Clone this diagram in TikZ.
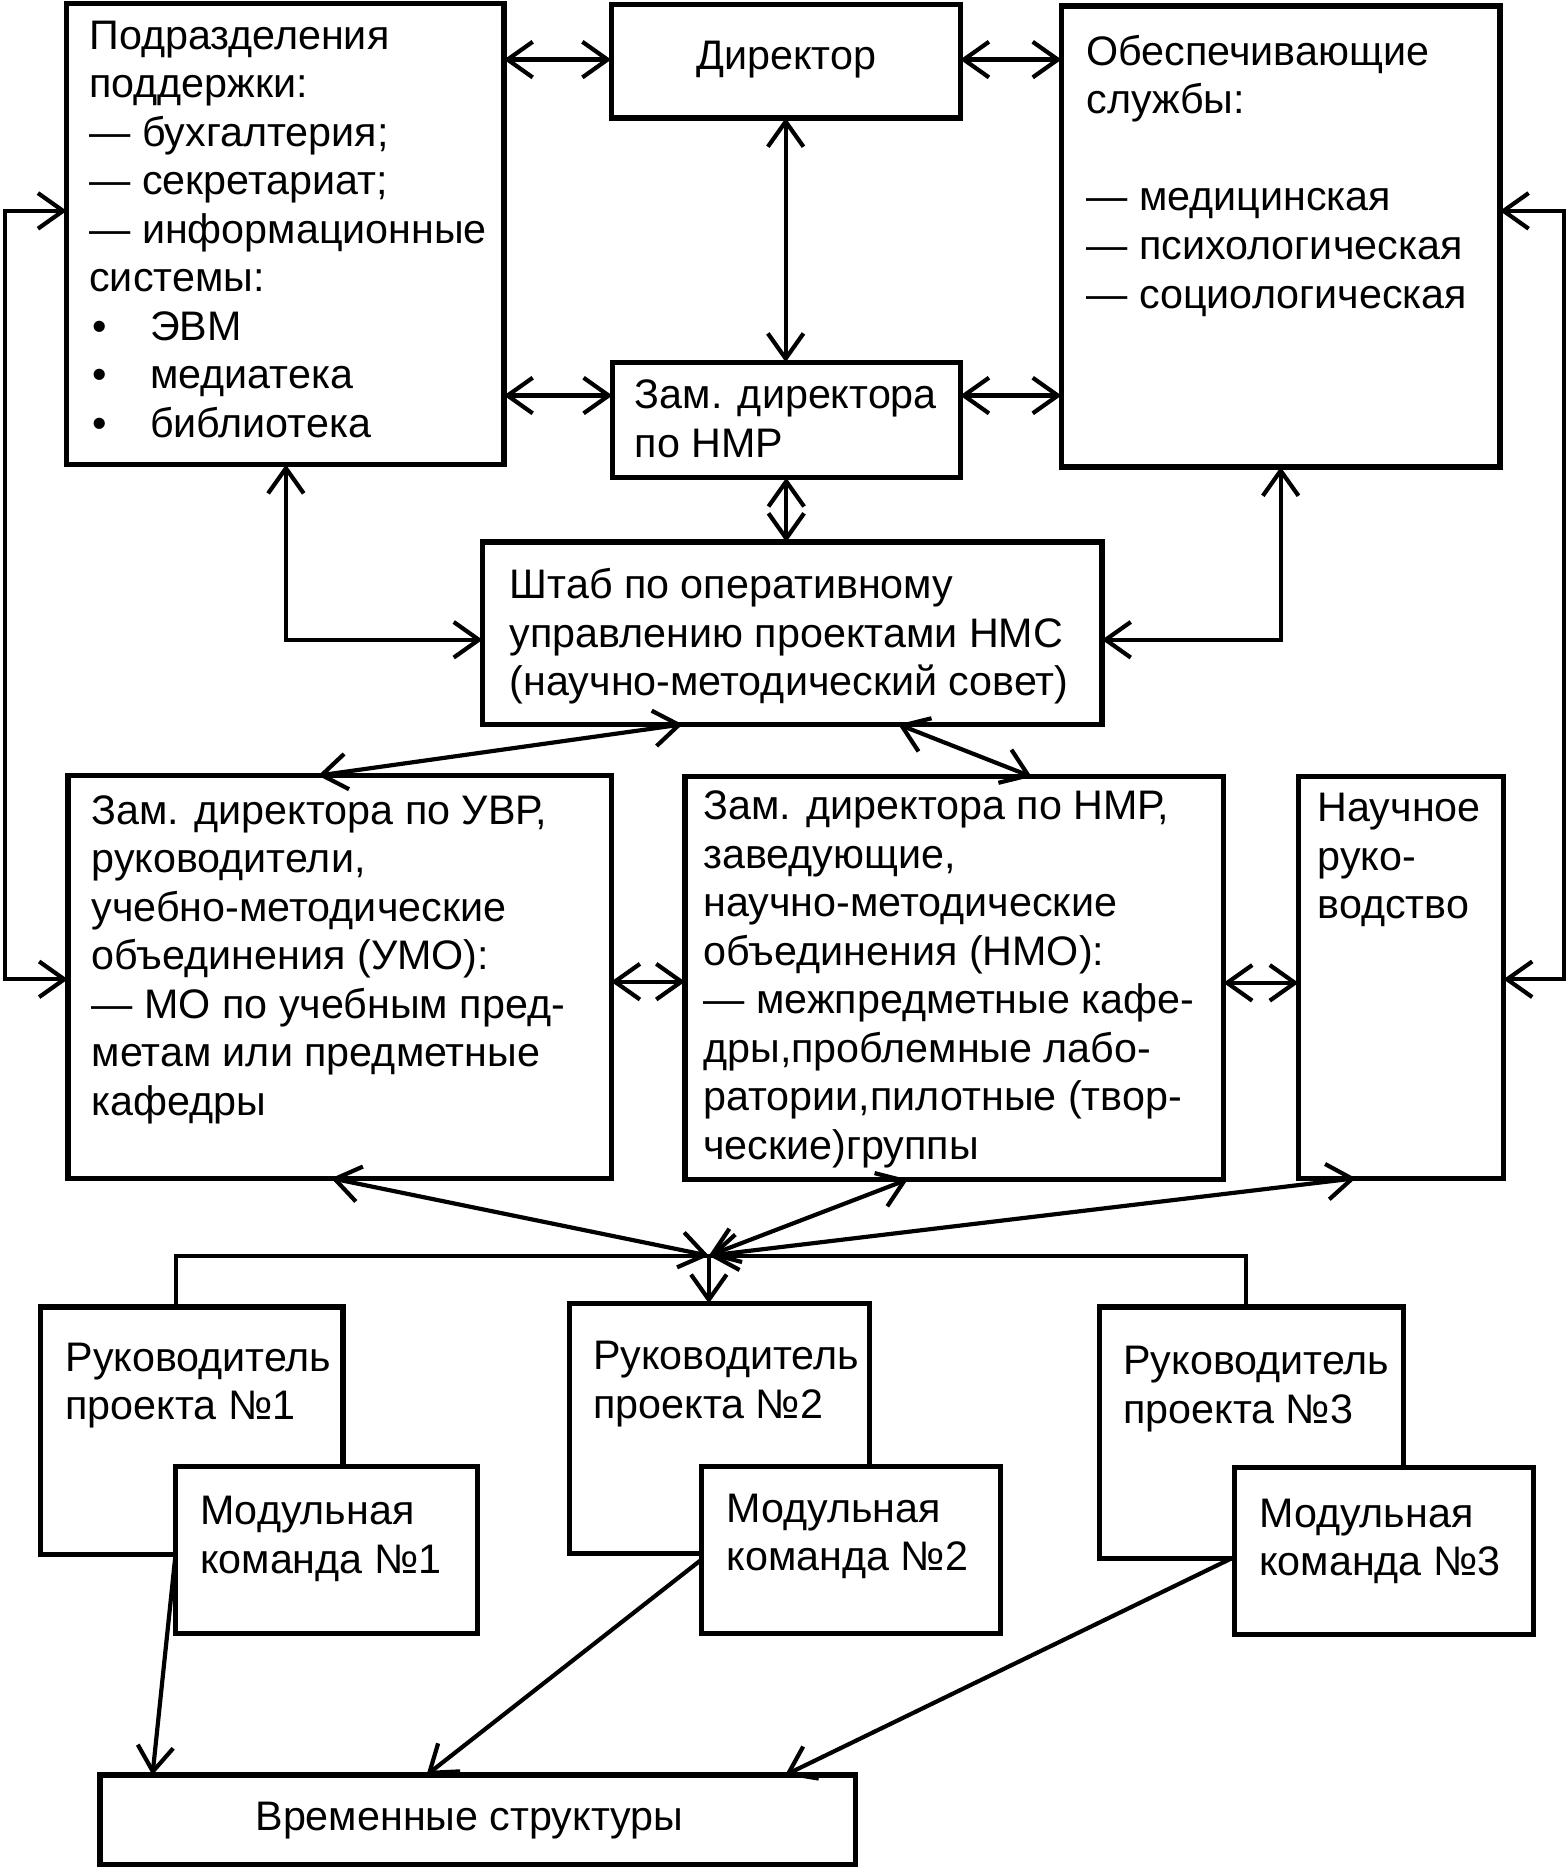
\documentclass[tikz,border=0pt]{standalone}
\usepackage{fontspec}
\setmainfont{Liberation Sans}
\usetikzlibrary{arrows.meta,fit,calc}
\begin{document}
\begin{tikzpicture}[x=0.01cm,y=-0.01cm,
 box/.style={draw, line width=1.25pt, inner sep=0pt, outer sep=0pt, fill=white},
 txt/.style={inner sep=0pt, outer sep=0pt, align=left, anchor=north west, font=\fontsize{9.85pt}{11.58pt}\selectfont},
 con/.style={line width=1pt},
 dbl/.style={con, {Straight Barb[length=6pt,width=8.5pt]}-{Straight Barb[length=6pt,width=8.5pt]}},
 sgl/.style={con, -{Straight Barb[length=6pt,width=8.5pt]}}]
\useasboundingbox (0,0) rectangle (1316,1568);

% top boxes
\node[box, fit={(56,3) (423,390)}] (A) {};
\node[txt] (At) at (75,17.5) {Подразделения\\поддержки:\\— бухгалтерия;\\— секретариат;\\— информационные\\системы:\\
\hspace*{0.03cm}\makebox[0.48cm][l]{•}ЭВМ\\
\hspace*{0.03cm}\makebox[0.48cm][l]{•}медиатека\\
\hspace*{0.03cm}\makebox[0.48cm][l]{•}библиотека};

\node[box, fit={(513,4) (806,99)}] (Dir) {};
\node[txt, anchor=center, align=center] (Dt) at (660,50) {Директор};

\node[box, fit={(891,5) (1259,392)}] (O) {};
\node[txt] (Ot) at (912,29.5) {Обеспечивающие\\службы:\\\mbox{}\\— медицинская\\— психологическая\\— социологическая};

\node[box, fit={(514,304) (806,401)}] (Zam) {};
\node[txt] (Zt) at (533,319) {Зам. директора\\по НМР};

\node[box, fit={(405,455) (925,608)}] (Sh) {};
\node[txt] (Sht) at (428,477) {Штаб по оперативному\\управлению проектами НМС\\(научно-методический совет)};

% middle row
\node[box, fit={(57,651) (513,989)}] (UVR) {};
\node[txt] (UVRt) at (77,667.5) {Зам. директора по УВР,\\руководители,\\учебно-методические\\объединения (УМО):\\— МО по учебным пред-\\метам или предметные\\кафедры};

\node[box, fit={(575,652) (1027,990)}] (NMO) {};
\node[txt] (NMOt) at (590.5,664) {Зам. директора по НМР,\\заведующие,\\научно-методические\\объединения (НМО):\\— межпредметные кафе-\\дры,проблемные лабо-\\ратории,пилотные (твор-\\ческие)группы};

\node[box, fit={(1090,652) (1262,989)}] (Na) {};
\node[txt] (Nat) at (1106,666) {Научное\\руко-\\водство};

% project boxes
\node[box, fit={(34,1097) (288,1305)}] (R1) {};
\node[txt] (R1t) at (55,1127) {Руководитель\\проекта №1};
\node[box, fit={(147,1231) (401,1371)}] (M1) {};
\node[txt] (M1t) at (168,1256) {Модульная\\команда №1};

\node[box, fit={(478,1094) (730,1304)}] (R2) {};
\node[txt] (R2t) at (498,1126) {Руководитель\\проекта №2};
\node[box, fit={(589,1231) (840,1371)}] (M2) {};
\node[txt] (M2t) at (610,1254) {Модульная\\команда №2};

\node[box, fit={(923,1097) (1178,1308)}] (R3) {};
\node[txt] (R3t) at (943,1130) {Руководитель\\проекта №3};
\node[box, fit={(1036,1232) (1287,1372)}] (M3) {};
\node[txt] (M3t) at (1057,1258) {Модульная\\команда №3};

\node[box, fit={(84,1490) (718,1565)}] (B) {};
\node[txt, anchor=center, align=center] (Bt) at (394,1528) {Временные структуры};

% connectors top
\draw[dbl] (A.east |- 0,50) -- (Dir.west |- 0,50);
\draw[dbl] (Dir.east |- 0,50) -- (O.west |- 0,50);
\draw[dbl] (Dir.south) -- (Dir.south |- Zam.north);
\draw[dbl] (A.east |- 0,332) -- (Zam.west |- 0,332);
\draw[dbl] (Zam.east |- 0,332) -- (O.west |- 0,332);
\draw[dbl] (Zam.south) -- (Zam.south |- Sh.north);
\draw[dbl] (A.south -| 240,0) |- (Sh.west |- 0,537);
\draw[dbl] (O.south -| 1075,0) |- (Sh.east |- 0,537);
\draw[dbl] (A.west |- 0,177) -- ++(-52,0) |- (UVR.west |- 0,822);
\draw[dbl] (O.east |- 0,177) -- ++(54,0) |- (Na.east |- 0,822);

% connectors middle
\draw[dbl] (Sh.south -| 573,0) -- (UVR.north -| 267,0);
\draw[dbl] (Sh.south -| 754,0) -- (NMO.north -| 866,0);
\draw[dbl] (UVR.east |- 0,824) -- (NMO.west |- 0,824);
\draw[dbl] (NMO.east |- 0,825) -- (Na.west |- 0,825);

% junction
\coordinate (J) at (595,1054);
\draw[con] (R1.north -| 148,0) |- (J) -| (R3.north -| 1046,0);
\draw[dbl] (UVR.south -| 278,0) -- (J);
\draw[dbl] (NMO.south -| 762,0) -- (J);
\draw[dbl] (Na.south -| 1138,0) -- (J);
\draw[sgl] (J) -- (J |- R2.north);

% to temporary structures
\draw[sgl] (M1.west |- 0,1308) -- (B.north -| 128,0);
\draw[sgl] (M2.west |- 0,1309) -- (B.north -| 358,0);
\draw[sgl] (M3.west |- 0,1307) -- (B.north -| 659,0);
\end{tikzpicture}
\end{document}
